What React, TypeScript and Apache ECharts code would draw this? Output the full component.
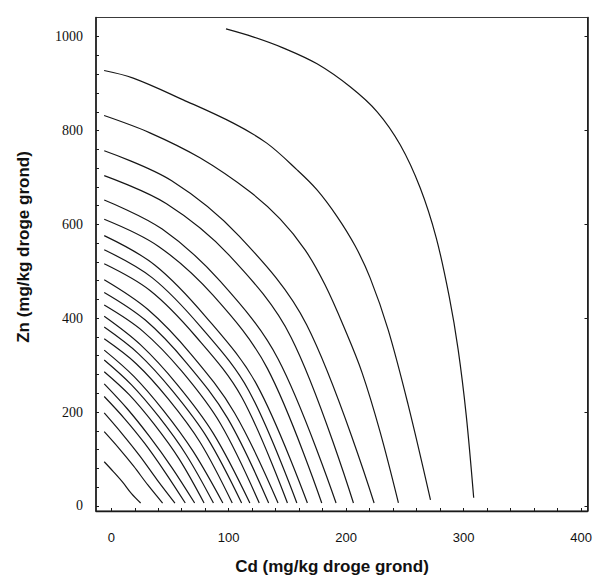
import React, { useEffect, useRef } from "react";
import * as echarts from "echarts";

// Axis tick labels
const xTickLabels = [0, 100, 200, 300, 400];
const yTickLabels = [0, 200, 400, 600, 800, 1000];
const xMinorTicks = [0, 20, 40, 60, 80, 100, 120, 140, 160, 180, 200, 220, 240, 260, 280, 300, 320, 340, 360, 380, 400];
const yMinorTicks = [0, 40, 80, 120, 160, 200, 240, 280, 320, 360, 400, 440, 480, 520, 560, 600, 640, 680, 720, 760, 800, 840, 880, 920, 960, 1000];

const xTitle = "Cd (mg/kg droge grond)";
const yTitle = "Zn (mg/kg droge grond)";

// Contour lines: [Cd, Zn] points, inner to outer
const innerLines: number[][][] = [
  [[-6, 94], [1.75, 73], [9.5, 51], [17.25, 26], [25, 6]],
  [[-6, 158], [6.4, 123], [18.9, 85], [31.3, 44], [43.7, 6]],
  [[-6, 198], [9.1, 154], [24.1, 107], [39.2, 55], [54.2, 6]],
  [[-6, 233], [11.25, 186], [28.5, 133], [45.75, 72], [63, 6]],
  [[-6, 260], [13.25, 208], [32.5, 148], [51.75, 81], [71, 6]],
  [[-6, 286], [15.25, 237], [36.5, 174], [57.75, 100], [79, 6]],
  [[-6, 311], [17.25, 258], [40.5, 190], [63.75, 109], [87, 6]],
];

const middleLines: number[][][] = [
  [[-6, 332], [19.25, 276], [44.5, 203], [69.75, 116], [95, 6]],
  [[-6, 356], [21.25, 303], [48.5, 228], [75.75, 135], [103, 6]],
  [[-6, 381], [23.25, 324], [52.5, 244], [81.75, 145], [111, 6]],
  [[-6, 404], [25, 343], [56, 259], [87, 154], [118, 6]],
  [[-6, 428], [27, 372], [60, 287], [93, 175], [126, 6]],
  [[-6, 455], [29, 396], [64, 305], [99, 187], [134, 6]],
  [[-6, 482], [31, 419], [68, 323], [105, 198], [142, 6]],
  [[-6, 516], [33, 459], [72, 361], [111, 232], [150, 6]],
  [[-6, 546], [35, 486], [76, 382], [117, 246], [158, 6]],
];

const outerLines: number[][][] = [
  [[-6, 576], [37.25, 513], [80.5, 403], [123.75, 259], [167, 6]],
  [[-6, 611], [40.3, 553], [86.6, 449], [132.9, 293], [179.2, 6]],
  [[-6, 652], [43.35, 590], [92.7, 479], [142.05, 313], [191.4, 6]],
  [[-6, 704], [47.05, 644], [100.1, 535], [153.15, 359], [206.2, 6]],
  [[-6, 757], [51.45, 693], [108.9, 575], [166.35, 386], [223.8, 6]],
  [[-6.1, 832], [32.9, 795.1], [75.5, 741.8], [118.1, 669.4], [143.7, 611.8], [165, 545.7], [182, 471.1], [199.1, 375.2], [213.6, 283.5], [228.9, 157.7], [244.5, 6.4]],
  [[-6.1, 928], [18.7, 911.8], [61.3, 865.5], [103.9, 815.8], [132.4, 773.2], [158.2, 716.3], [175.2, 673.6], [192.3, 616.7], [207.6, 554.3], [220.4, 486], [235.8, 375.2], [252.8, 215.3], [271.8, 12.8]],
  [[97.7, 1016.8], [120.7, 999.8], [146.2, 976.3], [175.2, 942.2], [203.4, 893.2], [226.4, 839.9], [246, 769.6], [263, 677.9], [276.7, 571.3], [287.8, 445.5], [295.4, 332.6], [302.2, 194], [308.6, 17.1]],
];

export default function App() {
  const ref = useRef<HTMLDivElement>(null);
  useEffect(() => {
    if (!ref.current) return;
    const chart = echarts.init(ref.current, undefined, { renderer: "svg" });
    const lines = [...innerLines, ...middleLines, ...outerLines];
    const axisColor = "#1a1a1a";
    chart.setOption({
      animation: false,
      backgroundColor: "#ffffff",
      grid: {
        left: 96,
        right: 9.5,
        top: 17.5,
        bottom: 65,
        show: true,
        borderColor: "#3a3a3a",
        borderWidth: 1,
        backgroundColor: "transparent",
      },
      xAxis: {
        type: "value",
        min: -13,
        max: 405.5,
        splitLine: { show: false },
        axisLine: { show: true, onZero: false, lineStyle: { color: axisColor, width: 1.3 } },
        axisTick: {
          show: true,
          inside: true,
          length: 3,
          customValues: xMinorTicks,
          lineStyle: { color: axisColor, width: 1 },
        },
        axisLabel: {
          show: true,
          customValues: xTickLabels,
          margin: 20,
          fontFamily: "Liberation Sans",
          fontSize: 13,
          color: "#111",
          formatter: (v: number) => String(v),
        },
      },
      yAxis: [
        {
          type: "value",
          min: -11,
          max: 1041,
          splitLine: { show: false },
          axisLine: { show: true, onZero: false, lineStyle: { color: axisColor, width: 1.6 } },
          axisTick: {
            show: true,
            inside: true,
            length: 3,
            customValues: yMinorTicks,
            lineStyle: { color: axisColor, width: 1 },
          },
          axisLabel: {
            show: true,
            customValues: yTickLabels,
            margin: 13,
            fontFamily: "Liberation Serif",
            fontSize: 14,
            color: "#111",
            formatter: (v: number) => String(v),
          },
        },
        {
          type: "value",
          position: "right",
          min: -11,
          max: 1041,
          splitLine: { show: false },
          axisLine: { show: true, onZero: false, lineStyle: { color: axisColor, width: 1.6 } },
          axisTick: {
            show: true,
            inside: true,
            length: 3,
            customValues: yTickLabels,
            lineStyle: { color: axisColor, width: 1 },
          },
          axisLabel: { show: false },
        },
      ],
      graphic: [
        {
          type: "text",
          x: 332,
          y: 566,
          style: {
            text: xTitle,
            fontFamily: "Liberation Sans",
            fontWeight: "bold",
            fontSize: 17,
            fill: "#111",
            align: "center",
            verticalAlign: "middle",
          },
        },
        {
          type: "text",
          x: 23,
          y: 247,
          rotation: Math.PI / 2,
          style: {
            text: yTitle,
            fontFamily: "Liberation Sans",
            fontWeight: "bold",
            fontSize: 17,
            fill: "#111",
            align: "center",
            verticalAlign: "middle",
          },
        },
      ],
      series: lines.map((pts) => ({
        type: "line",
        data: pts,
        smooth: 0.35,
        showSymbol: false,
        silent: true,
        lineStyle: { color: "#161616", width: 1.2 },
        yAxisIndex: 0,
      })),
    });
    return () => chart.dispose();
  }, []);
  return (
    <div
      ref={ref}
      style={{ position: "absolute", left: 0, top: 0, width: 597, height: 576 }}
    />
  );
}
